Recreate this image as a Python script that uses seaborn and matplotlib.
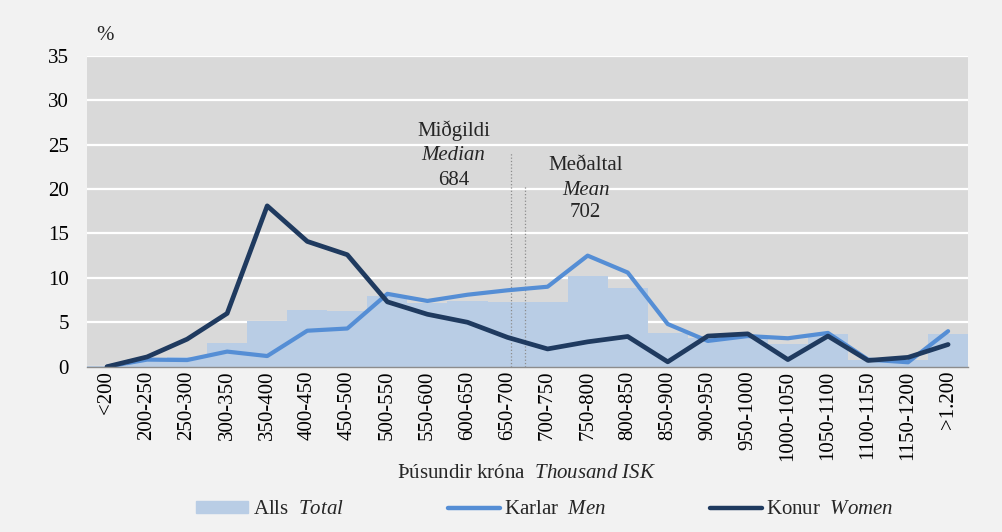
import matplotlib
matplotlib.use("Agg")
import matplotlib.pyplot as plt
from matplotlib.patches import Patch
from matplotlib.lines import Line2D
import seaborn as sns
import numpy as np

# income brackets (thousand ISK)
categories = ["<200", "200-250", "250-300", "300-350", "350-400", "400-450",
              "450-500", "500-550", "550-600", "600-650", "650-700", "700-750",
              "750-800", "800-850", "850-900", "900-950", "950-1000",
              "1000-1050", "1050-1100", "1100-1150", "1150-1200", ">1.200"]

total = [0.1, 0.9, 1.1, 2.7, 5.1, 6.4, 6.3, 8.0, 7.2, 7.4, 7.3, 7.3,
         10.2, 8.9, 3.8, 3.2, 3.5, 2.6, 3.7, 0.8, 0.7, 3.7]
men = [0.0, 0.8, 0.75, 1.7, 1.2, 4.05, 4.3, 8.2, 7.4, 8.1, 8.6, 9.0,
       12.5, 10.6, 4.8, 2.9, 3.45, 3.2, 3.8, 0.8, 0.5, 4.0]
women = [0.0, 1.1, 3.1, 6.0, 18.1, 14.1, 12.6, 7.3, 5.9, 5.0, 3.3, 2.0,
         2.8, 3.4, 0.55, 3.45, 3.7, 0.8, 3.45, 0.7, 1.05, 2.5]

median_val = 684
mean_val = 702

C_TOTAL = "#b9cde5"
C_MEN = "#558ed5"
C_WOMEN = "#1f3a5f"

sns.set_style("white")
plt.rcParams["font.family"] = ["Liberation Serif", "DejaVu Serif"]
plt.rcParams["mathtext.fontset"] = "custom"
plt.rcParams["mathtext.rm"] = "Liberation Serif"
plt.rcParams["mathtext.it"] = "Liberation Serif:italic"
plt.rcParams["font.size"] = 15

fig = plt.figure(figsize=(10.02, 5.32), dpi=100, facecolor="#f2f2f2")
ax = fig.add_axes([0.0868, 0.3107, 0.8794, 0.5846])
ax.set_facecolor("#d9d9d9")

x = np.arange(len(categories))
sns.barplot(x=categories, y=total, color=C_TOTAL, width=1.0, saturation=1,
            linewidth=0, edgecolor=C_TOTAL, ax=ax, zorder=2)
sns.lineplot(x=x, y=men, color=C_MEN, lw=3.0, ax=ax, zorder=4)
sns.lineplot(x=x, y=women, color=C_WOMEN, lw=3.4, ax=ax, zorder=5)

# median / mean markers, bracket value -> category position
def pos(v):
    return (v - 180) / 50

ax.vlines(pos(median_val), 0, 24.2, colors="#8c8c8c", linestyles=":", lw=0.9, zorder=3)
ax.vlines(pos(mean_val), 0, 20.5, colors="#8c8c8c", linestyles=":", lw=0.9, zorder=3)
ax.text(8.65, 26.6, "Miðgildi", ha="center", va="center", fontsize=15)
ax.text(8.65, 23.8, "Median", ha="center", va="center", fontsize=15, style="italic")
ax.text(8.65, 21.0, str(median_val), ha="center", va="center", fontsize=15)
ax.text(11.95, 22.6, "Meðaltal", ha="center", va="center", fontsize=15)
ax.text(11.95, 19.8, "Mean", ha="center", va="center", fontsize=15, style="italic")
ax.text(11.95, 17.3, str(mean_val), ha="center", va="center", fontsize=15)

ax.set_xlim(-0.5, len(categories) - 0.5)
ax.set_ylim(0, 35)
ax.set_yticks(range(0, 36, 5))
ax.yaxis.grid(True, color="white", lw=1.6, zorder=1)
ax.set_axisbelow(True)
for s in ["top", "right", "left"]:
    ax.spines[s].set_visible(False)
ax.spines["bottom"].set_color("#8c8c8c")
ax.spines["bottom"].set_linewidth(1.0)
ax.spines["bottom"].set_zorder(6)
ax.tick_params(axis="both", length=0, labelsize=15, colors="black")
ax.tick_params(axis="y", pad=13)
ax.tick_params(axis="x", pad=3)
ax.set_xticks(x)
ax.set_xticklabels(categories, rotation=90)
ax.set_xlabel("")
ax.set_ylabel("")

fig.text(105 / 1002, 1 - 36 / 532, "%", ha="center", va="center", fontsize=15)
fig.text(527 / 1002, 1 - 474 / 532, r"Þúsundir króna  $\mathit{Thousand\ ISK}$",
         ha="center", va="center", fontsize=15)

handles = [Patch(color=C_TOTAL),
           Line2D([0], [0], color=C_MEN, lw=3.2),
           Line2D([0], [0], color=C_WOMEN, lw=3.2)]
labels = [r"Alls  $\mathit{Total}$", r"Karlar  $\mathit{Men}$", r"Konur  $\mathit{Women}$"]
fig.legend(handles, labels, loc="center", bbox_to_anchor=(545 / 1002, 1 - 510 / 532),
           ncol=3, frameon=False, fontsize=15, handlelength=2.5, handleheight=0.55,
           handletextpad=0.2, columnspacing=5.0)

fig.savefig("out.png", dpi=100, facecolor=fig.get_facecolor())
